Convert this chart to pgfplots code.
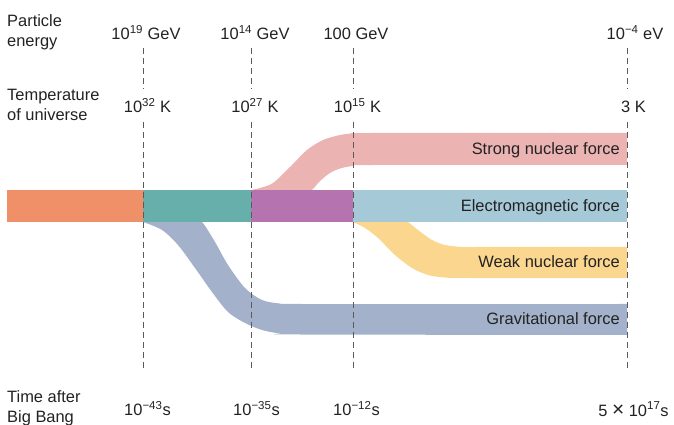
\documentclass[border=0pt]{standalone}
\usepackage{fontspec}
\setmainfont{Liberation Sans}
\usepackage{pgfplots}
\pgfplotsset{compat=1.18}
\usepgfplotslibrary{fillbetween}
\definecolor{cOrange}{HTML}{EF9068}
\definecolor{cTeal}{HTML}{67AFAB}
\definecolor{cPurple}{HTML}{B574B0}
\definecolor{cBlue}{HTML}{A6C9D8}
\definecolor{cPink}{HTML}{EBB4B3}
\definecolor{cYellow}{HTML}{FBD68E}
\definecolor{cGrav}{HTML}{A3B2CA}
\definecolor{cText}{HTML}{222222}
\definecolor{cDash}{HTML}{5A5A5A}
\newcommand\lab{\fontsize{16.5}{19.6}\selectfont}
\begin{document}
\begin{tikzpicture}
\begin{axis}[width=674bp,height=425bp,scale only axis,hide axis,clip=false,
  xmin=0,xmax=674,ymin=0,ymax=425,y dir=reverse]
% --- curved bands (edges) ---
\addplot[draw=none,smooth,name path=pu] coordinates {(251,190) (260,188) (273,183) (290,167) (307,150) (323,140) (340,135) (353,133.5) (372,133) (627,133)};
\addplot[draw=none,smooth,name path=pl] coordinates {(251,215) (280,212) (300,200) (312,190) (320,181) (330,173) (340,168.5) (353,166) (375,165) (627,165)};
\addplot[fill=cPink,draw=none] fill between[of=pu and pl];
\addplot[draw=none,smooth,name path=gu] coordinates {(143,208) (170,210) (190,215) (202,222) (215,242) (228,265) (245,288) (262,300) (280,303.5) (300,304) (627,304)};
\addplot[draw=none,smooth,name path=gl] coordinates {(143,222) (162,230) (178,245) (195,268) (212,292) (228,312) (245,323) (262,330) (280,333.5) (300,334.5) (627,335)};
\addplot[fill=cGrav,draw=none] fill between[of=gu and gl];
\addplot[draw=none,smooth,name path=wu] coordinates {(353,205) (385,210) (400,216) (408,222) (418,230) (432,240) (445,245) (462,247) (480,247) (627,247)};
\addplot[draw=none,smooth,name path=wl] coordinates {(353,222) (365,228) (378,238) (395,255) (412,268) (428,275) (445,277.5) (470,278) (627,278)};
\addplot[fill=cYellow,draw=none] fill between[of=wu and wl];
% --- main band ---
\addplot[fill=cOrange,draw=none] coordinates {(7,190) (143,190) (143,222) (7,222)} --cycle;
\addplot[fill=cTeal,draw=none] coordinates {(143,190) (251,190) (251,222) (143,222)} --cycle;
\addplot[fill=cPurple,draw=none] coordinates {(251,190) (353,190) (353,222) (251,222)} --cycle;
\addplot[fill=cBlue,draw=none] coordinates {(353,190) (627,190) (627,222) (353,222)} --cycle;
% --- dashed lines ---
\pgfplotsinvokeforeach{143,251,353,627}{
  \addplot[cDash,line width=1bp,dash pattern=on 6.5bp off 3.5bp] coordinates {(#1,48) (#1,89)};
  \addplot[cDash,line width=1bp,dash pattern=on 6.5bp off 3.5bp] coordinates {(#1,122) (#1,368)};
}
% --- labels ---
\begin{scope}[every node/.style={font=\lab,text=cText,inner sep=0pt}]
\node[anchor=base west] at (axis cs:7,27) {Particle};
\node[anchor=base west] at (axis cs:7,47) {energy};
\node[anchor=base west] at (axis cs:7,101) {Temperature};
\node[anchor=base west] at (axis cs:7,120.5) {of universe};
\node[anchor=base west] at (axis cs:7,402.5) {Time after};
\node[anchor=base west] at (axis cs:7,422.5) {Big Bang};
\node[anchor=base] at (axis cs:146,40) {10\textsuperscript{19} GeV};
\node[anchor=base] at (axis cs:255,40) {10\textsuperscript{14} GeV};
\node[anchor=base] at (axis cs:356,40) {100 GeV};
\node[anchor=base] at (axis cs:635,40) {10\textsuperscript{−4} eV};
\node[anchor=base] at (axis cs:147.5,113) {10\textsuperscript{32} K};
\node[anchor=base] at (axis cs:255,113) {10\textsuperscript{27} K};
\node[anchor=base] at (axis cs:357.5,113) {10\textsuperscript{15} K};
\node[anchor=base] at (axis cs:633.5,113) {3 K};
\node[anchor=base] at (axis cs:147.5,415.5) {10\textsuperscript{−43}s};
\node[anchor=base] at (axis cs:256.5,415.5) {10\textsuperscript{−35}s};
\node[anchor=base] at (axis cs:356.5,415.5) {10\textsuperscript{−12}s};
\node[anchor=base] at (axis cs:633.5,416) {5 {\fontsize{21}{21}\selectfont\raisebox{-0.5bp}{×}} 10\textsuperscript{17}s};
\node[anchor=base east] at (axis cs:620,154.5) {Strong nuclear force};
\node[anchor=base east] at (axis cs:620,211.5) {Electromagnetic force};
\node[anchor=base east] at (axis cs:620,268) {Weak nuclear force};
\node[anchor=base east] at (axis cs:620,325) {Gravitational force};
\end{scope}
\end{axis}
\pgfresetboundingbox
\path (0,0) rectangle (674bp,425bp);
\end{tikzpicture}
\end{document}
